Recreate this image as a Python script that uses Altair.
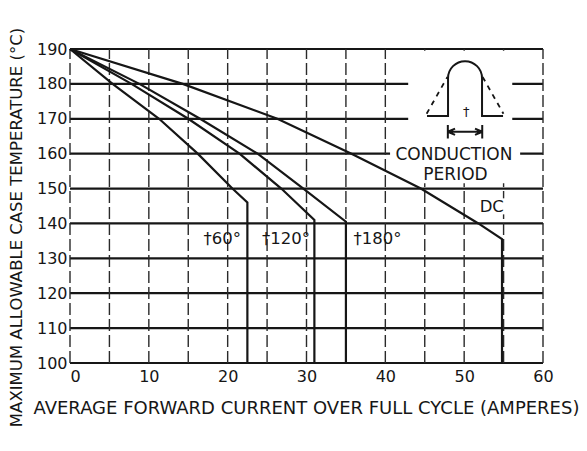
import altair as alt
import pandas as pd

# ---------------- data ----------------
x_ticks = [0, 10, 20, 30, 40, 50, 60]
y_ticks = [100, 110, 120, 130, 140, 150, 160, 170, 180, 190]
x_grid = [0, 5, 10, 15, 20, 25, 30, 35, 40, 45, 50, 55, 60]
y_grid = [100, 110, 120, 130, 140, 150, 160, 170, 180, 190]

series_names = ["60", "120", "180", "DC"]
cur_60 = [0, 5.4, 11.3, 16.2, 20.6, 22.5, 22.5]
temp_60 = [190, 180, 170, 160, 150, 146, 100]
cur_120 = [0, 7.8, 15.0, 21.5, 26.8, 31.0, 31.0]
temp_120 = [190, 180, 170, 160, 150, 141, 100]
cur_180 = [0, 8.8, 16.5, 23.8, 29.6, 35.0, 35.0]
temp_180 = [190, 180, 170, 160, 150, 140.5, 100]
cur_dc = [0, 14.3, 26.3, 35.7, 44.5, 51.8, 54.8, 54.8]
temp_dc = [190, 180, 170, 160, 150, 140, 135.5, 100]

label_text = ["\u202060\u00b0", "\u2020120\u00b0", "\u2020180\u00b0", "DC"]
label_x = [19.3, 27.4, 39.0, 53.5]
label_y = [135.6, 135.6, 135.6, 144.8]

inset_text = ["CONDUCTION", "PERIOD"]
inset_text_x = [48.7, 48.9]
inset_text_y = [159.6, 153.9]

mask_x0 = [42.9, 40.6, 51.9]
mask_x1 = [56.1, 57.1, 55.6]
mask_y0 = [163.5, 151.5, 142.6]
mask_y1 = [189.5, 163.5, 147.2]

pulse_x = [50.11]
pulse_y = [178.55]
dagger_x = [50.25]
dagger_y = [172.0]

# ---------------- tables ----------------
rows = []
for name, xs, ys in [("60", cur_60, temp_60), ("120", cur_120, temp_120),
                     ("180", cur_180, temp_180), ("DC", cur_dc, temp_dc)]:
    for i, (a, b) in enumerate(zip(xs, ys)):
        rows.append({"series": name, "order": i, "x": a, "y": b})
curves = pd.DataFrame(rows)

hgrid_df = pd.DataFrame({"y": y_grid, "x0": [0] * len(y_grid), "x1": [60] * len(y_grid)})
vgrid_df = pd.DataFrame({"x": x_grid, "y0": [100] * len(x_grid), "y1": [190] * len(x_grid)})
mask_df = pd.DataFrame({"x0": mask_x0, "x1": mask_x1, "y0": mask_y0, "y1": mask_y1})
labels_df = pd.DataFrame({"t": label_text, "x": label_x, "y": label_y})
inset_df = pd.DataFrame({"t": inset_text, "x": inset_text_x, "y": inset_text_y})
pulse_df = pd.DataFrame({"x": pulse_x, "y": pulse_y})
dagger_df = pd.DataFrame({"t": ["\u2020"], "x": dagger_x, "y": dagger_y})

FONT = "DejaVu Sans"
INK = "#161616"

xscale = alt.Scale(domain=[0, 60], nice=False, zero=False)
yscale = alt.Scale(domain=[100, 190], nice=False, zero=False)

x_axis = alt.Axis(
    values=x_ticks, grid=False, domain=False, ticks=False,
    labelFont=FONT, labelFontSize=16, labelColor=INK, labelPadding=5,
    labelFlush=False,
    labelAlign={"condition": {"test": "datum.value == 0", "value": "left"}, "value": "center"},
    title="AVERAGE FORWARD CURRENT OVER FULL CYCLE (AMPERES)",
    titleFont=FONT, titleFontSize=18, titleFontWeight="normal", titleColor=INK,
    titleX=-37, titleY=45, titleAlign="left", titleAnchor="start", titleBaseline="middle",
)
y_axis = alt.Axis(
    values=y_ticks, grid=False, domain=False, ticks=False,
    labelFont=FONT, labelFontSize=16, labelColor=INK, labelPadding=3,
    labelFlush=False,
    title="MAXIMUM ALLOWABLE CASE TEMPERATURE (\u00b0C)",
    titleFont=FONT, titleFontSize=16.5, titleFontWeight="normal", titleColor=INK,
    titleX=-54, titleY=178, titleAlign="center", titleAngle=270, titleBaseline="middle",
)


def X(field):
    return alt.X(field, scale=xscale, axis=x_axis)


def Y(field):
    return alt.Y(field, scale=yscale, axis=y_axis)


hgrid = alt.Chart(hgrid_df).mark_rule(color=INK, strokeWidth=2.2).encode(
    x=X("x0:Q"), x2="x1:Q", y=Y("y:Q"),
)
vgrid = alt.Chart(vgrid_df).mark_rule(color="#2a2a2a", strokeWidth=1.4, strokeDash=[12, 4]).encode(
    x=X("x:Q"), y=Y("y0:Q"), y2="y1:Q",
)
mask = alt.Chart(mask_df).mark_rect(color="white", opacity=1).encode(
    x=X("x0:Q"), x2="x1:Q", y=Y("y0:Q"), y2="y1:Q",
)
lines = alt.Chart(curves).mark_line(color=INK, strokeWidth=2.2, strokeJoin="miter").encode(
    x=X("x:Q"), y=Y("y:Q"), detail="series:N", order="order:Q",
)
labels = alt.Chart(labels_df).mark_text(font=FONT, fontSize=16.5, color=INK, baseline="middle").encode(
    x=X("x:Q"), y=Y("y:Q"), text="t:N",
)
inset_labels = alt.Chart(inset_df).mark_text(font=FONT, fontSize=17, color=INK, baseline="middle").encode(
    x=X("x:Q"), y=Y("y:Q"), text="t:N",
)
solid_path = ("M -0.95 0.675 L -0.425 0.675 L -0.425 -0.27 A 0.425 0.425 0 0 1 0.425 -0.27 "
              "L 0.425 0.675 L 0.95 0.675 "
              "M -0.43 0.9 L -0.43 1.24 M 0.43 0.9 L 0.43 1.24 M -0.43 1.07 L 0.43 1.07 "
              "M -0.43 1.07 L -0.25 0.99 M -0.43 1.07 L -0.25 1.15 "
              "M 0.43 1.07 L 0.25 0.99 M 0.43 1.07 L 0.25 1.15")
dash_path = "M -0.96 0.62 L -0.44 -0.3 M 0.44 -0.3 L 0.96 0.62"
pulse = alt.Chart(pulse_df).mark_point(shape=solid_path, size=6400, filled=False, stroke=INK,
                                       strokeWidth=2, opacity=1).encode(
    x=X("x:Q"), y=Y("y:Q"),
)
pulse_dash = alt.Chart(pulse_df).mark_point(shape=dash_path, size=6400, filled=False, stroke=INK,
                                            strokeWidth=1.8, strokeDash=[5, 5], opacity=1).encode(
    x=X("x:Q"), y=Y("y:Q"),
)
dagger = alt.Chart(dagger_df).mark_text(font=FONT, fontSize=13, color=INK, baseline="middle").encode(
    x=X("x:Q"), y=Y("y:Q"), text="t:N",
)

chart = alt.layer(hgrid, vgrid, mask, lines, labels, inset_labels, pulse, pulse_dash, dagger).properties(
    width=473, height=314,
    autosize=alt.AutoSizeParams(type="none"),
    padding={"left": 62, "top": 41, "right": 36, "bottom": 80},
    background="white",
).configure_view(stroke=None)

chart.save("out.html", embed_options={"renderer": "svg", "actions": False})
